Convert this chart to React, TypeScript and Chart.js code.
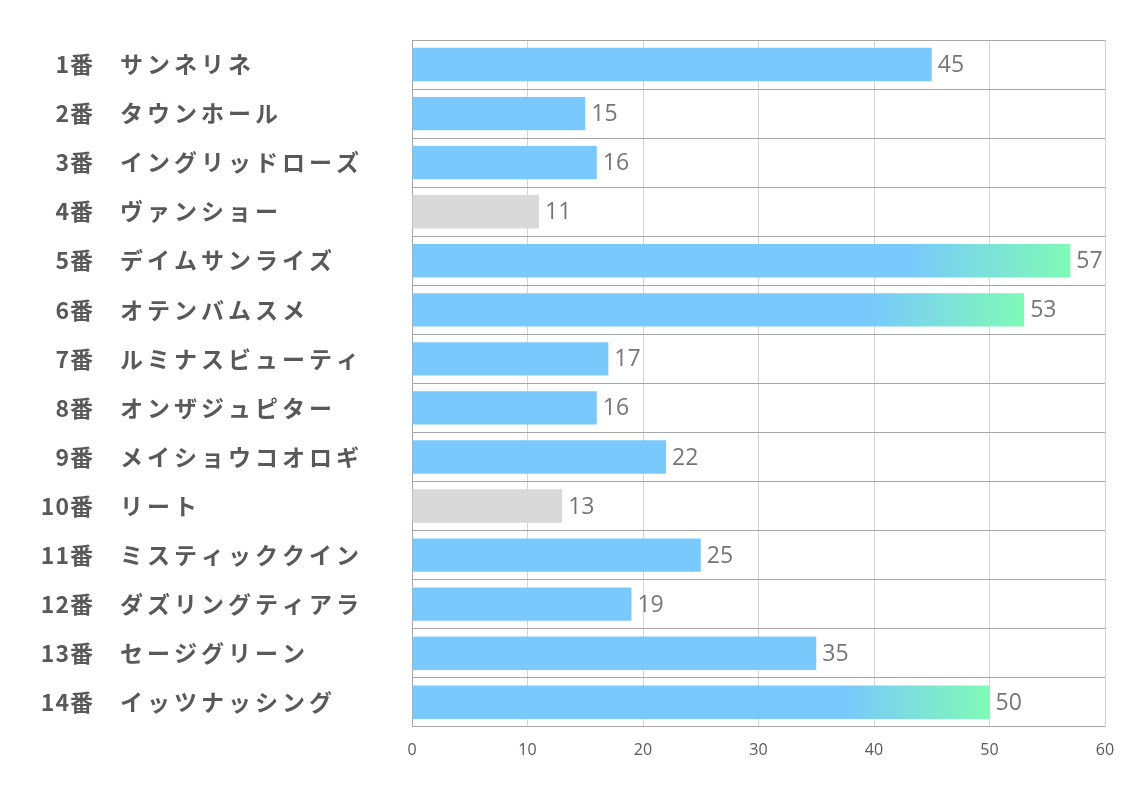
import React, { useEffect, useRef } from "react";
import { Chart, registerables } from "chart.js";

Chart.register(...registerables);

const numbers = ["1番", "2番", "3番", "4番", "5番", "6番", "7番", "8番", "9番", "10番", "11番", "12番", "13番", "14番"];
const names = [
  "サンネリネ",
  "タウンホール",
  "イングリッドローズ",
  "ヴァンショー",
  "デイムサンライズ",
  "オテンバムスメ",
  "ルミナスビューティ",
  "オンザジュピター",
  "メイショウコオロギ",
  "リート",
  "ミスティッククイン",
  "ダズリングティアラ",
  "セージグリーン",
  "イッツナッシング",
];
const values = [45, 15, 16, 11, 57, 53, 17, 16, 22, 13, 25, 19, 35, 50];
// bar style kind: "blue", "gray", "grad"
const kinds = ["blue", "blue", "blue", "gray", "grad", "grad", "blue", "blue", "blue", "gray", "blue", "blue", "blue", "grad"];
const xTicks = [0, 10, 20, 30, 40, 50, 60];

const BLUE = "#79c9fc";
const GREEN = "#7ffab6";
const GRAY = "#d9d9d9";

const labelPlugin = {
  id: "customLabels",
  afterDatasetsDraw(chart: any) {
    const ctx = chart.ctx;
    const y = chart.scales.y;
    const x = chart.scales.x;
    ctx.save();
    ctx.textBaseline = "middle";
    numbers.forEach((n, i) => {
      const py = y.getPixelForValue(i);
      ctx.fillStyle = "#595959";
      ctx.font = "bold 23px 'Noto Sans CJK JP', 'Noto Sans', sans-serif";
      ctx.letterSpacing = "1px";
      ctx.textAlign = "right";
      ctx.fillText(n, 94, py);
      ctx.letterSpacing = "4px";
      ctx.textAlign = "left";
      ctx.fillText(names[i], 120, py);
      ctx.letterSpacing = "0px";
      ctx.fillStyle = "#767676";
      ctx.font = "23px 'Open Sans', 'Noto Sans', sans-serif";
      ctx.fillText(String(values[i]), x.getPixelForValue(values[i]) + 6, py + 1);
    });
    ctx.restore();
  },
};

export default function App() {
  const ref = useRef<HTMLCanvasElement | null>(null);
  useEffect(() => {
    document.body.style.margin = "0";
    const canvas = ref.current;
    if (!canvas) return;
    const chart = new Chart(canvas, {
      type: "bar",
      data: {
        labels: numbers.map((n, i) => n + "　" + names[i]),
        datasets: [
          {
            data: values,
            backgroundColor: (c: any) => {
              const i = c.dataIndex;
              const k = kinds[i];
              if (k === "gray") return GRAY;
              if (k === "blue") return BLUE;
              const xs = c.chart.scales.x;
              if (!xs || !c.chart.chartArea) return BLUE;
              const v = values[i];
              const x0 = xs.getPixelForValue(v * 0.75);
              const x1 = xs.getPixelForValue(v);
              const g = c.chart.ctx.createLinearGradient(x0, 0, x1, 0);
              g.addColorStop(0, BLUE);
              g.addColorStop(1, GREEN);
              return g;
            },
            borderWidth: 0,
            categoryPercentage: 1,
            barPercentage: 0.68,
          },
        ],
      },
      options: {
        indexAxis: "y",
        animation: false,
        responsive: false,
        maintainAspectRatio: false,
        layout: { padding: { left: 412, right: 29, top: 40, bottom: 19 } },
        plugins: { legend: { display: false }, tooltip: { enabled: false } },
        scales: {
          x: {
            min: 0,
            max: 60,
            afterBuildTicks: (s: any) => {
              s.ticks = xTicks.map((v) => ({ value: v }));
            },
            grid: { color: "#d4d4d4", lineWidth: 1, drawTicks: false },
            border: { display: false },
            ticks: {
              color: "#595959",
              font: { size: 16, family: "'Open Sans', 'Noto Sans', sans-serif" },
              padding: 14,
            },
          },
          y: {
            offset: true,
            grid: { offset: true, color: "#a6a6a6", lineWidth: 1, drawTicks: false },
            border: { display: true, color: "#a6a6a6" },
            ticks: { display: false },
          },
        },
      },
      plugins: [labelPlugin],
    });
    return () => chart.destroy();
  }, []);
  return (
    <div style={{ width: 1134, height: 793 }}>
      <canvas ref={ref} width={1134} height={793} style={{ display: "block" }} />
    </div>
  );
}
